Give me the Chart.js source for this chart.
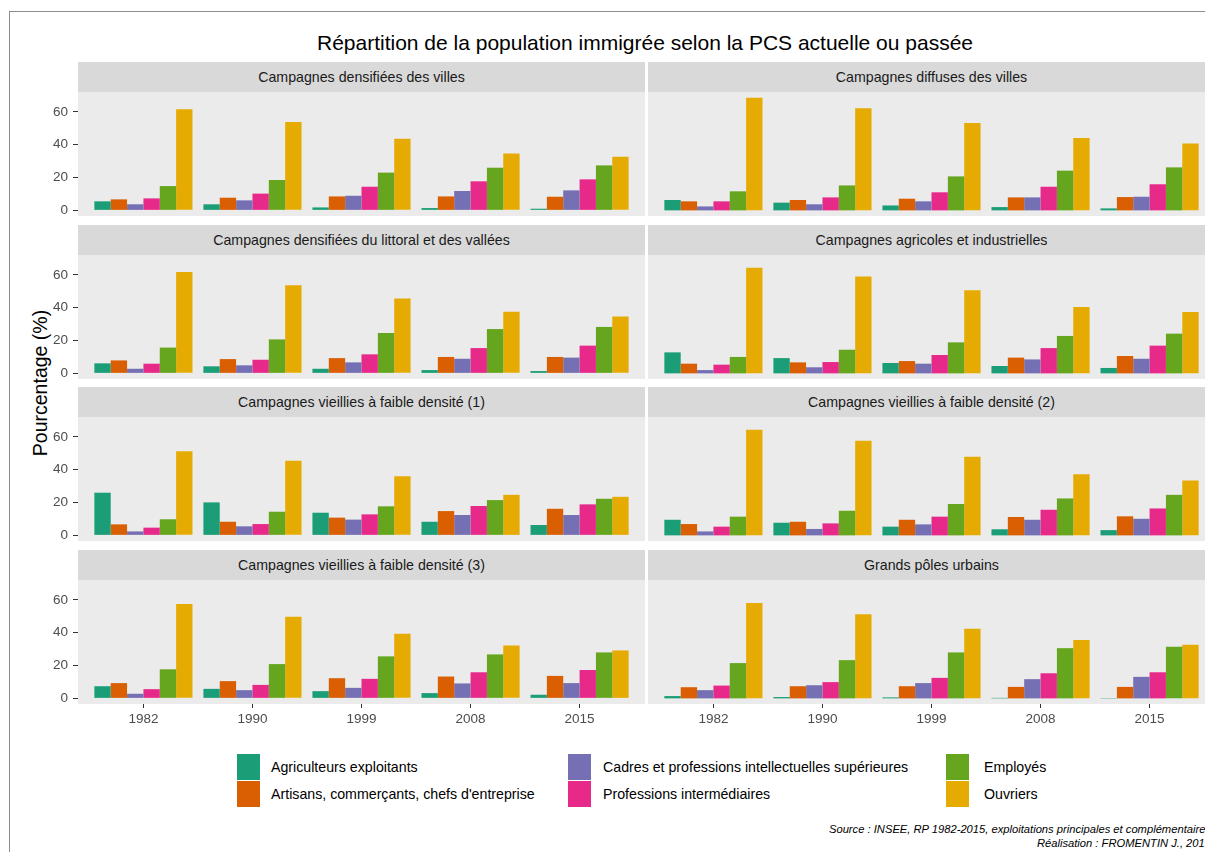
<!DOCTYPE html>
<html><head><meta charset="utf-8">
<script src="https://cdn.jsdelivr.net/npm/chart.js@4.4.1/dist/chart.umd.min.js"></script>
<style>
html,body{margin:0;padding:0;background:#fff;width:1205px;height:852px;overflow:hidden;}
body{position:relative;font-family:'Liberation Sans',Arial,sans-serif;}
.abs{position:absolute;}
.frame{left:9px;top:11px;width:1300px;height:900px;border:1px solid #8c8c8c;box-sizing:border-box;}
.title{left:0;width:1290px;text-align:center;top:30px;font-size:21px;line-height:26px;color:#000;}
.strip{background:#D9D9D9;height:30px;line-height:30px;text-align:center;font-size:14.2px;color:#1A1A1A;}
.ylab{left:-60px;top:372px;width:200px;height:22px;line-height:22px;text-align:center;font-size:19.5px;color:#000;transform:rotate(-90deg);}
.key{width:23px;height:26px;}
.ltext{font-size:14.2px;line-height:26px;color:#000;white-space:nowrap;}
.src{right:-6px;font-size:11.2px;font-style:italic;color:#000;text-align:right;white-space:nowrap;line-height:13px;}
</style>
</head><body>
<div class="abs frame"></div>
<div class="abs title">Répartition de la population immigrée selon la PCS actuelle ou passée</div>
<div class="abs ylab">Pourcentage (%)</div>
<div id="root"></div>
<script>
// ---- Data ----
const years = ['1982', '1990', '1999', '2008', '2015'];
const panels = [
  'Campagnes densifiées des villes',
  'Campagnes diffuses des villes',
  'Campagnes densifiées du littoral et des vallées',
  'Campagnes agricoles et industrielles',
  'Campagnes vieillies à faible densité (1)',
  'Campagnes vieillies à faible densité (2)',
  'Campagnes vieillies à faible densité (3)',
  'Grands pôles urbains'
];
const seriesNames = [
  'Agriculteurs exploitants',
  "Artisans, commerçants, chefs d'entreprise",
  'Cadres et professions intellectuelles supérieures',
  'Professions intermédiaires',
  'Employés',
  'Ouvriers'
];
const yTicks = [0, 20, 40, 60];

// one row per panel (same order as panels), one value per year
const agriculteurs = [
  [5.5, 3.7, 1.8, 1.4, 1.0],
  [6.3, 4.7, 3.0, 2.0, 1.2],
  [6.1, 4.3, 2.8, 2.0, 1.4],
  [12.8, 9.3, 6.3, 4.5, 3.3],
  [26.0, 20.1, 13.8, 8.3, 6.3],
  [9.5, 7.7, 5.3, 3.7, 3.2],
  [7.4, 5.8, 4.4, 3.2, 2.2],
  [1.4, 0.8, 0.6, 0.3, 0.2]
];
const artisans = [
  [6.7, 7.7, 8.5, 8.5, 8.3],
  [5.5, 6.3, 7.1, 7.9, 8.1],
  [7.9, 8.7, 9.3, 10.0, 10.0],
  [5.9, 6.7, 7.5, 9.6, 10.6],
  [6.7, 8.3, 10.8, 14.8, 16.2],
  [6.9, 8.3, 9.5, 11.2, 11.6],
  [9.3, 10.5, 12.3, 13.3, 13.7],
  [6.8, 7.4, 7.4, 7.0, 7.0]
];
const cadres = [
  [3.7, 6.1, 8.9, 11.8, 12.2],
  [2.4, 3.7, 5.5, 7.9, 8.3],
  [2.8, 4.9, 6.7, 8.9, 9.6],
  [2.0, 3.7, 5.9, 8.5, 8.9],
  [2.4, 5.5, 9.6, 12.4, 12.4],
  [2.4, 3.9, 6.7, 9.5, 10.1],
  [2.8, 5.0, 6.4, 9.1, 9.3],
  [5.0, 8.0, 9.3, 11.7, 13.1]
];
const intermediaires = [
  [7.3, 10.2, 14.4, 17.7, 18.9],
  [5.5, 7.9, 11.0, 14.4, 15.9],
  [5.9, 8.3, 11.6, 15.4, 16.9],
  [5.3, 6.9, 11.2, 15.4, 16.9],
  [4.7, 6.9, 12.8, 17.9, 18.9],
  [5.3, 7.3, 11.4, 15.6, 16.4],
  [5.6, 8.2, 11.9, 15.9, 17.3],
  [7.8, 9.9, 12.5, 15.3, 15.9]
];
const employes = [
  [14.8, 18.5, 23.0, 26.0, 27.4],
  [11.6, 15.2, 20.7, 24.2, 26.2],
  [15.7, 20.7, 24.6, 27.0, 28.3],
  [10.0, 14.4, 18.9, 22.8, 24.2],
  [9.8, 14.4, 17.7, 21.5, 22.3],
  [11.4, 15.0, 19.1, 22.5, 24.7],
  [17.7, 20.9, 25.6, 26.8, 28.0],
  [21.5, 23.3, 28.0, 30.6, 31.4]
];
const ouvriers = [
  [61.6, 53.9, 43.7, 34.6, 32.7],
  [68.7, 62.2, 53.3, 44.1, 40.7],
  [61.8, 53.7, 45.7, 37.6, 34.6],
  [64.4, 59.1, 50.6, 40.4, 37.4],
  [51.2, 45.5, 36.0, 24.7, 23.5],
  [64.3, 57.6, 47.9, 37.3, 33.5],
  [57.5, 49.7, 39.4, 32.2, 29.2],
  [58.1, 51.3, 42.5, 35.6, 32.6]
];

// ---- Styling ----
const seriesData = [agriculteurs, artisans, cadres, intermediaires, employes, ouvriers];
const colors = ['#1B9E77', '#D95F02', '#7570B3', '#E7298A', '#66A61E', '#E6AB02'];
const FONT = "'Liberation Sans', Arial, sans-serif";
Chart.defaults.font.family = FONT;
Chart.defaults.animation = false;

const rowTops = [62, 225, 387, 550];
const STRIP_H = 30, PLOT_H = 124, XAXIS_H = 26;
const colPlotLeft = [78, 648], PLOT_W = 567, YAXIS_W = 58;

// y range with ggplot-like 5% expansion
let dmax = 0;
seriesData.forEach(s => s.forEach(r => r.forEach(v => { dmax = Math.max(dmax, v); })));
const yMin = -0.05 * dmax, yMax = dmax * 1.05;

const bgPlugin = {
  id: 'panelbg',
  beforeDraw(chart) {
    const a = chart.chartArea, ctx = chart.ctx;
    ctx.save();
    ctx.fillStyle = '#EBEBEB';
    ctx.fillRect(a.left, a.top, a.right - a.left, a.bottom - a.top);
    ctx.restore();
  }
};

const root = document.getElementById('root');

panels.forEach((name, p) => {
  const col = p % 2, row = Math.floor(p / 2);
  const top = rowTops[row];
  const plotLeft = colPlotLeft[col];

  const strip = document.createElement('div');
  strip.className = 'abs strip';
  strip.style.left = plotLeft + 'px';
  strip.style.top = top + 'px';
  strip.style.width = PLOT_W + 'px';
  strip.textContent = name;
  root.appendChild(strip);

  const showY = col === 0;
  const showX = row === 3;
  const cLeft = showY ? plotLeft - YAXIS_W : plotLeft;
  const cW = PLOT_W + (showY ? YAXIS_W : 0);
  const cH = PLOT_H + (showX ? XAXIS_H : 0);

  const canvas = document.createElement('canvas');
  canvas.className = 'abs';
  canvas.style.left = cLeft + 'px';
  canvas.style.top = (top + STRIP_H) + 'px';
  canvas.width = cW; canvas.height = cH;
  canvas.style.width = cW + 'px'; canvas.style.height = cH + 'px';
  root.appendChild(canvas);

  new Chart(canvas, {
    type: 'bar',
    data: {
      datasets: seriesNames.map((sn, s) => ({
        label: sn,
        data: seriesData[s][p].map((v, i) => ({ x: i + 1, y: v })),
        backgroundColor: colors[s],
        borderWidth: 0,
        categoryPercentage: 0.9,
        barPercentage: 1.0
      }))
    },
    options: {
      responsive: false,
      devicePixelRatio: 1,
      layout: { padding: 0 },
      plugins: { legend: { display: false }, tooltip: { enabled: false } },
      scales: {
        x: {
          type: 'linear',
          min: 0.4, max: 5.6,
          offset: false,
          display: showX,
          afterBuildTicks: s => { s.ticks = years.map((y, i) => ({ value: i + 1 })); },
          afterFit: s => {
            if (showX) s.height = XAXIS_H;
            s.paddingLeft = 0; s.paddingRight = 0;
          },
          ticks: {
            callback: v => years[Math.round(v) - 1],
            color: '#4D4D4D', font: { size: 13.5, family: FONT }, padding: 3,
            maxRotation: 0, autoSkip: false
          },
          grid: { display: true, offset: false, drawOnChartArea: false, drawTicks: true, tickLength: 4, color: '#333333' },
          border: { display: false }
        },
        y: {
          type: 'linear',
          min: yMin, max: yMax,
          display: showY,
          afterBuildTicks: s => { s.ticks = yTicks.map(v => ({ value: v })); },
          afterFit: s => {
            if (showY) s.width = YAXIS_W;
            s.paddingTop = 0; s.paddingBottom = 0;
          },
          ticks: { color: '#4D4D4D', font: { size: 13.5, family: FONT }, padding: 5 },
          grid: { display: true, offset: false, drawOnChartArea: false, drawTicks: true, tickLength: 5, color: '#333333' },
          border: { display: false }
        }
      }
    },
    plugins: [bgPlugin]
  });
});

// ---- Legend (HTML) ----
const legendCols = [237, 568, 946];
const legendTextX = [271, 603, 984];
const legendRows = [754, 781];
seriesNames.forEach((sn, s) => {
  const c = Math.floor(s / 2), r = s % 2;
  const k = document.createElement('div');
  k.className = 'abs key';
  k.style.left = legendCols[c] + 'px';
  k.style.top = legendRows[r] + 'px';
  k.style.background = colors[s];
  root.appendChild(k);
  const t = document.createElement('div');
  t.className = 'abs ltext';
  t.style.left = legendTextX[c] + 'px';
  t.style.top = legendRows[r] + 'px';
  t.textContent = sn;
  root.appendChild(t);
});
</script>
<div class="abs src" style="top:823px;">Source : INSEE, RP 1982-2015, exploitations principales et complémentaires</div>
<div class="abs src" style="top:837px;">Réalisation : FROMENTIN J., 2019</div>
</body></html>
